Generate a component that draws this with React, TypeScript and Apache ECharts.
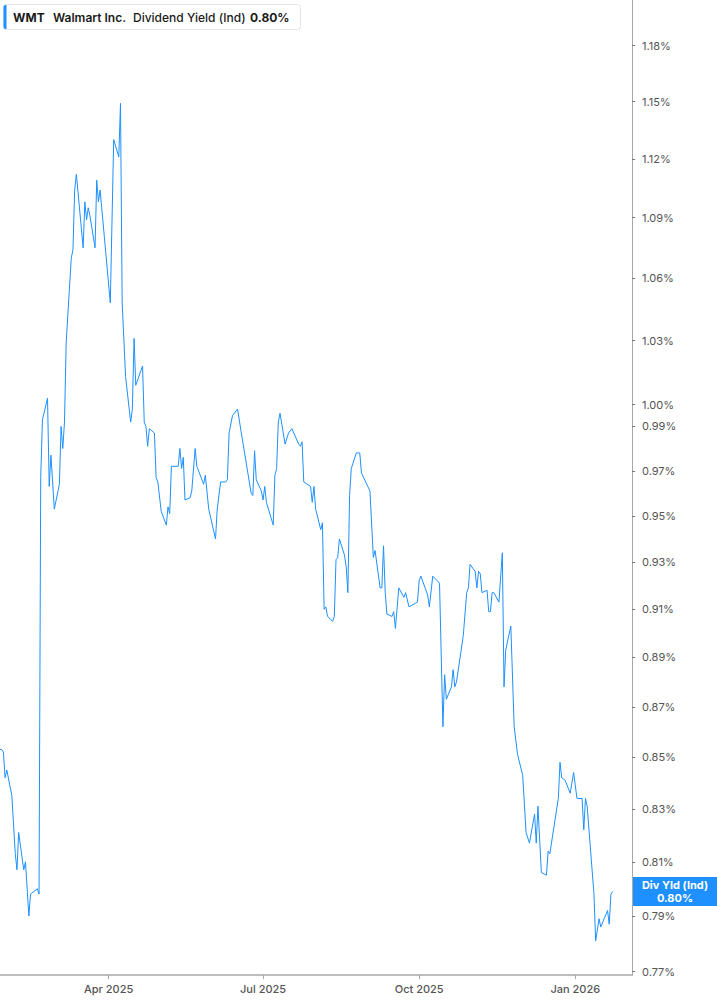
import React, { useEffect, useRef } from 'react';
import * as echarts from 'echarts';

// Trading dates and Walmart dividend yield (indicated), in %
const dates = [
  '2025-01-27','2025-01-28','2025-01-29','2025-01-30','2025-01-31',
  '2025-02-03','2025-02-05','2025-02-06','2025-02-07','2025-02-10','2025-02-11','2025-02-13','2025-02-14','2025-02-18','2025-02-19','2025-02-20','2025-02-21','2025-02-24','2025-02-25','2025-02-26','2025-02-28',
  '2025-03-03','2025-03-04','2025-03-05','2025-03-06','2025-03-07','2025-03-10','2025-03-11','2025-03-12','2025-03-13','2025-03-17','2025-03-18','2025-03-19','2025-03-20','2025-03-21','2025-03-24','2025-03-25','2025-03-26','2025-03-27',
  '2025-04-02','2025-04-04','2025-04-07','2025-04-08','2025-04-09','2025-04-11','2025-04-14','2025-04-15','2025-04-16','2025-04-17','2025-04-21','2025-04-22','2025-04-23','2025-04-24','2025-04-25','2025-04-28','2025-04-29','2025-04-30',
  '2025-05-02','2025-05-05','2025-05-06','2025-05-07','2025-05-08','2025-05-12','2025-05-13','2025-05-14','2025-05-15','2025-05-16','2025-05-19','2025-05-20','2025-05-22','2025-05-23','2025-05-27','2025-05-28','2025-05-30',
  '2025-06-03','2025-06-04','2025-06-06','2025-06-09','2025-06-10','2025-06-11','2025-06-13','2025-06-16','2025-06-18','2025-06-24','2025-06-25','2025-06-26','2025-06-27','2025-06-30',
  '2025-07-01','2025-07-02','2025-07-03','2025-07-07','2025-07-08','2025-07-09','2025-07-10','2025-07-11','2025-07-14','2025-07-16','2025-07-18','2025-07-22','2025-07-23','2025-07-24','2025-07-25','2025-07-29','2025-07-30','2025-07-31',
  '2025-08-01','2025-08-04','2025-08-05','2025-08-06','2025-08-07','2025-08-08','2025-08-11','2025-08-12','2025-08-13','2025-08-14','2025-08-15','2025-08-18','2025-08-19','2025-08-20','2025-08-21','2025-08-22','2025-08-25','2025-08-27','2025-08-28',
  '2025-09-02','2025-09-04','2025-09-05','2025-09-08','2025-09-09','2025-09-10','2025-09-11','2025-09-12','2025-09-15','2025-09-16','2025-09-17','2025-09-19','2025-09-22','2025-09-23','2025-09-25','2025-09-30',
  '2025-10-01','2025-10-02','2025-10-06','2025-10-07','2025-10-09','2025-10-13','2025-10-15','2025-10-16','2025-10-17','2025-10-20','2025-10-21','2025-10-22','2025-10-23','2025-10-27','2025-10-29','2025-10-30','2025-10-31',
  '2025-11-03','2025-11-04','2025-11-05','2025-11-06','2025-11-07','2025-11-10','2025-11-11','2025-11-12','2025-11-13','2025-11-14','2025-11-17','2025-11-19','2025-11-20','2025-11-21','2025-11-24','2025-11-26','2025-11-28',
  '2025-12-01','2025-12-03','2025-12-05','2025-12-08','2025-12-09','2025-12-10','2025-12-12','2025-12-15','2025-12-16','2025-12-17','2025-12-22','2025-12-23','2025-12-24','2025-12-26','2025-12-29','2025-12-31',
  '2026-01-02','2026-01-05','2026-01-06','2026-01-07','2026-01-08','2026-01-12','2026-01-13','2026-01-15','2026-01-16','2026-01-20','2026-01-21','2026-01-22','2026-01-23',
];

const yieldPct = [
  0.853,0.853,0.852,0.842,0.845,
  0.835,0.813,0.807,0.821,0.807,0.810,0.790,0.798,0.800,0.798,0.967,0.993,1.003,0.963,0.977,0.953,
  0.964,0.990,0.980,0.992,1.029,1.070,1.074,1.104,1.112,1.075,1.098,1.089,1.095,1.091,1.075,1.109,1.098,1.104,
  1.048,1.130,1.121,1.149,1.048,1.013,0.992,0.998,1.031,1.009,1.018,0.992,0.990,0.981,0.989,0.987,0.967,0.965,
  0.952,0.946,0.954,0.951,0.972,0.972,0.980,0.971,0.976,0.957,0.958,0.961,0.980,0.972,0.964,0.968,0.953,
  0.940,0.953,0.965,0.965,0.966,0.987,0.995,0.998,0.988,0.960,0.959,0.979,0.966,0.961,
  0.957,0.963,0.956,0.946,0.968,0.971,0.992,0.996,0.982,0.987,0.989,0.982,0.981,0.983,0.965,0.963,0.956,0.963,
  0.953,0.944,0.947,0.910,0.911,0.907,0.905,0.907,0.931,0.932,0.940,0.933,0.928,0.917,0.959,0.971,0.978,0.978,0.969,
  0.961,0.932,0.935,0.919,0.919,0.937,0.917,0.908,0.907,0.909,0.902,0.919,0.915,0.917,0.911,0.913,
  0.922,0.924,0.916,0.911,0.924,0.921,0.862,0.883,0.873,0.878,0.885,0.878,0.880,0.899,0.917,0.919,0.929,
  0.926,0.919,0.926,0.925,0.917,0.918,0.909,0.909,0.917,0.917,0.913,0.934,0.878,0.893,0.903,0.862,0.851,
  0.843,0.821,0.817,0.828,0.817,0.831,0.806,0.805,0.814,0.813,0.834,0.848,0.842,0.841,0.836,0.844,
  0.834,0.834,0.822,0.834,0.831,0.798,0.781,0.789,0.786,0.792,0.787,0.798,0.799,
];

const yTicks = [1.18, 1.15, 1.12, 1.09, 1.06, 1.03, 1.0, 0.99, 0.97, 0.95, 0.93, 0.91, 0.89, 0.87, 0.85, 0.83, 0.81, 0.79, 0.77];
const xTicks = ['2025-04-01', '2025-07-01', '2025-10-01', '2026-01-01'];
const xTickLabels = ['Apr 2025', 'Jul 2025', 'Oct 2025', 'Jan 2026'];
const xRange = ['2025-01-27T00:00:00Z', '2026-02-03T10:00:00Z'];
const yRangePct = [0.7688, 1.2051];

const ticker = 'WMT';
const company = 'Walmart Inc.';
const metric = 'Dividend Yield (Ind)';
const lastText = '0.80%';
const endLabel = 'Div Yld (Ind)';

const BLUE = '#1e90ff';
const FONT = 'Inter, "Noto Sans", sans-serif';

const ts = (s: string) => Date.parse(s.length === 10 ? s + 'T00:00:00Z' : s);

export default function App() {
  const ref = useRef<HTMLDivElement>(null);

  useEffect(() => {
    if (!ref.current) return;
    const chart = echarts.init(ref.current, undefined, { renderer: 'svg' });
    const xTickTs = xTicks.map(ts);
    const labelFor = (v: number) => {
      const i = xTickTs.findIndex((t) => Math.abs(t - v) < 3600000);
      return i >= 0 ? xTickLabels[i] : '';
    };
    const seriesData = dates.map((d, i) => [ts(d), Math.log(yieldPct[i])]);

    chart.setOption({
      animation: false,
      grid: { left: 0, right: 85, top: 0, bottom: 30, containLabel: false },
      xAxis: {
        type: 'value',
        min: ts(xRange[0]),
        max: ts(xRange[1]),
        axisLine: { show: true, onZero: false, lineStyle: { color: '#a8a8a8', width: 1.5 } },
        axisTick: { show: true, length: 4, lineStyle: { color: '#a8a8a8' }, customValues: xTickTs },
        axisLabel: {
          customValues: xTickTs,
          formatter: (v: number) => labelFor(v),
          color: '#555',
          fontFamily: FONT,
          fontSize: 11,
          fontWeight: 500,
          margin: 8,
        },
        splitLine: { show: false },
      },
      yAxis: {
        type: 'value',
        position: 'right',
        min: Math.log(yRangePct[0]),
        max: Math.log(yRangePct[1]),
        axisLine: { show: true, onZero: false, lineStyle: { color: '#a8a8a8', width: 1 } },
        axisTick: { show: true, length: 3, inside: false, lineStyle: { color: '#777' }, customValues: yTicks.map(Math.log) },
        axisLabel: {
          customValues: yTicks.map(Math.log),
          formatter: (v: number) => Math.exp(v).toFixed(2) + '%',
          color: '#555',
          fontFamily: FONT,
          fontSize: 11,
          margin: 10,
        },
        splitLine: { show: false },
      },
      series: [
        {
          type: 'line',
          data: seriesData,
          showSymbol: false,
          symbol: 'none',
          lineStyle: { color: BLUE, width: 1 },
          clip: true,
        },
      ],
    });

    const lastY = chart.convertToPixel({ yAxisIndex: 0 }, Math.log(yieldPct[yieldPct.length - 1])) as number;
    const gridRight = chart.convertToPixel({ xAxisIndex: 0 }, ts(xRange[1])) as number;
    const boxW = 717 - gridRight - 1;
    const cx = gridRight + 1 + boxW / 2;

    chart.setOption({
      graphic: [
        {
          type: 'group',
          children: [
            { type: 'rect', shape: { x: 3.5, y: 4.5, width: 297, height: 25, r: 3 }, style: { fill: '#fff', stroke: '#e4e4e4', lineWidth: 1 } },
            { type: 'rect', shape: { x: 3.5, y: 5, width: 3, height: 24, r: [2, 0, 0, 2] }, style: { fill: BLUE } },
            { type: 'text', x: 13, y: 17, style: { text: ticker, font: `bold 12px ${FONT}`, fill: '#1a1a1a', verticalAlign: 'middle' } },
            { type: 'text', x: 53, y: 17, style: { text: company, font: `600 12px ${FONT}`, fill: '#1a1a1a', verticalAlign: 'middle' } },
            { type: 'text', x: 133, y: 17, style: { text: metric, font: `500 12px ${FONT}`, fill: '#1a1a1a', verticalAlign: 'middle' } },
            { type: 'text', x: 250, y: 17, style: { text: lastText, font: `bold 12px ${FONT}`, fill: '#1a1a1a', verticalAlign: 'middle' } },
          ],
        },
        {
          type: 'group',
          children: [
            { type: 'rect', shape: { x: gridRight + 1, y: lastY - 14.5, width: boxW, height: 29 }, style: { fill: BLUE } },
            { type: 'text', x: cx, y: lastY - 6.5, style: { text: endLabel, font: `bold 11px ${FONT}`, fill: '#fff', align: 'center', verticalAlign: 'middle' } },
            { type: 'text', x: cx, y: lastY + 6.5, style: { text: lastText, font: `bold 11px ${FONT}`, fill: '#fff', align: 'center', verticalAlign: 'middle' } },
          ],
        },
      ],
    });

    return () => chart.dispose();
  }, []);

  return (
    <div
      ref={ref}
      style={{ position: 'fixed', left: 0, top: 0, width: 717, height: 1005, background: '#fff' }}
    />
  );
}
